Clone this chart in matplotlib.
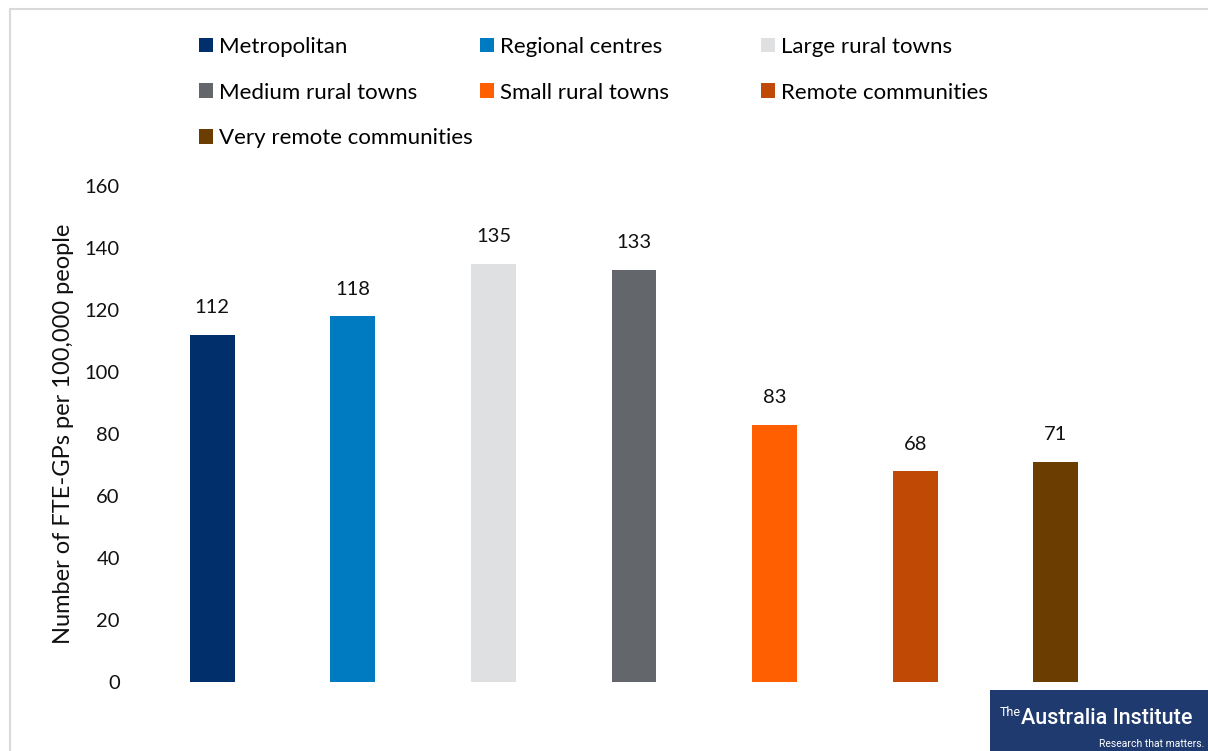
import matplotlib.pyplot as plt
from matplotlib.patches import Rectangle, Patch

plt.rcParams['font.family'] = ['Lato', 'DejaVu Sans']

categories = ["Metropolitan", "Regional centres", "Large rural towns",
              "Medium rural towns", "Small rural towns", "Remote communities",
              "Very remote communities"]
values = [112, 118, 135, 133, 83, 68, 71]
colors = ["#002F6C", "#007AC0", "#DFE0E2", "#63666A", "#FF5F00", "#C04A05", "#6B3D00"]
yticks = [0, 20, 40, 60, 80, 100, 120, 140, 160]

W, H = 1208, 751
fig = plt.figure(figsize=(W / 100, H / 100), dpi=100)
ax = fig.add_axes([142 / W, 1 - 682 / H, 984 / W, 496 / H])

x = range(len(categories))
ax.bar(x, values, width=0.32, color=colors)
for xi, v in zip(x, values):
    ax.text(xi, v + 6, str(v), ha="center", va="bottom", fontsize=14.5, color="#111111")

ax.set_xlim(-0.5, len(categories) - 0.5)
ax.set_ylim(0, 160)
ax.set_yticks(yticks)
ax.tick_params(axis="y", length=0, labelsize=14.5, labelcolor="#111111", pad=16)
ax.set_xticks([])
for s in ax.spines.values():
    s.set_visible(False)
ax.set_ylabel("Number of FTE-GPs per 100,000 people", fontsize=17, labelpad=8, color="#111111")

# legend: three columns of equal width, filled row by row
col_x = [199, 480, 761]
for c in range(3):
    idx = list(range(c, len(categories), 3))
    fig.legend([Patch(facecolor=colors[i]) for i in idx], [categories[i] for i in idx],
               loc="upper left", bbox_to_anchor=(col_x[c] / W, 1 - 37 / H),
               frameon=False, fontsize=16, handlelength=0.63, handleheight=0.63,
               handletextpad=0.25, labelspacing=1.15, borderpad=0, borderaxespad=0)

# outer frame
fig.add_artist(Rectangle((10 / W, -0.05), 1.1, 1 - 9 / H + 0.05, transform=fig.transFigure,
                         fill=False, edgecolor="#D9D9D9", linewidth=1.5))

# logo
fig.add_artist(Rectangle((990 / W, 0), 218 / W, 61 / H, transform=fig.transFigure,
                         facecolor="#1F3A6E", edgecolor="none"))
fig.text(1000 / W, 1 - 713 / H, "The", color="white", fontsize=9, va="center",
         family=["Roboto", "DejaVu Sans"])
fig.text(1021 / W, 1 - 719 / H, "Australia Institute", color="white", fontsize=15.5,
         va="center", weight="medium", family=["Roboto", "DejaVu Sans"])
fig.text(1204 / W, 1 - 744 / H, "Research that matters.", color="white", fontsize=7.5,
         va="center", ha="right", family=["Roboto", "DejaVu Sans"])

fig.savefig("out.png", dpi=100)
